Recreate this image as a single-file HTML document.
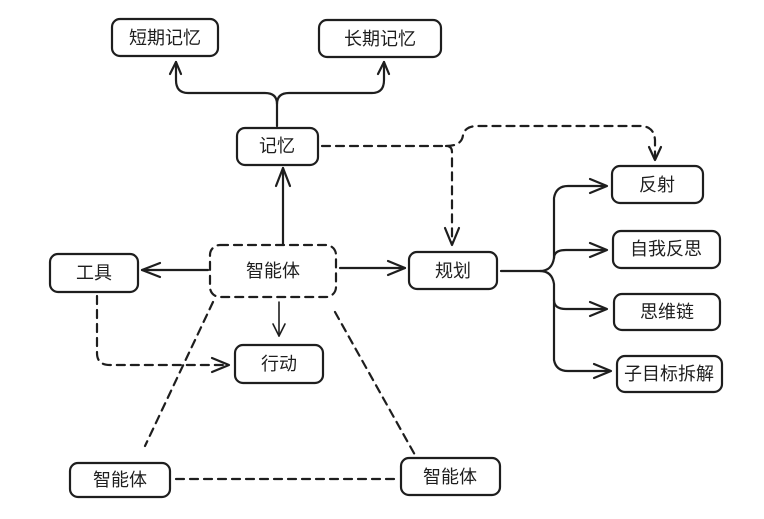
<!DOCTYPE html>
<html><head><meta charset="utf-8"><style>
html,body{margin:0;padding:0;background:#fff;}
svg{display:block;}
text{font-family:"Liberation Sans","Noto Sans CJK SC",sans-serif;font-size:18px;fill:#1e1e1e;text-anchor:middle;dominant-baseline:central;}
</style></head><body>
<svg width="764" height="519" viewBox="0 0 764 519" xmlns="http://www.w3.org/2000/svg">
<g fill="none" stroke="#1e1e1e" stroke-width="2.2" stroke-linecap="round" stroke-linejoin="round">
<rect x="112" y="19" width="106" height="37" rx="8"/>
<rect x="319" y="20" width="122" height="37" rx="8"/>
<rect x="237" y="128" width="81" height="37" rx="8"/>
<rect x="612" y="166" width="91" height="37" rx="8"/>
<rect x="613" y="231" width="107" height="37" rx="8"/>
<rect x="614" y="294" width="106" height="36" rx="8"/>
<rect x="617" y="356" width="105" height="36" rx="8"/>
<rect x="409" y="252" width="88" height="37" rx="8"/>
<rect x="210" y="245" width="126" height="52" rx="10" stroke-dasharray="8 6"/>
<rect x="50" y="254" width="88" height="38" rx="8"/>
<rect x="235" y="345" width="88" height="38" rx="8"/>
<rect x="70" y="463" width="100" height="34" rx="8"/>
<rect x="401" y="458" width="99" height="37" rx="8"/>

<path d="M277 126 V104 Q277 93 265 93 H188 Q176 93 176 80 V62"/>
<path d="M170 74 L176 62 L181 74"/>
<path d="M277 104 Q277 93 289 93 H372 Q384 93 384 80 V62"/>
<path d="M378 74 L384 62 L389 74"/>
<path d="M283 244 V168"/><path d="M276 186 L283 168 L290 186"/>
<path d="M208 270 H142"/><path d="M160 263 L142 270 L160 277"/>
<path d="M340 268 H405"/><path d="M388 261 L405 268 L388 275"/>
<path d="M279 302 V336" stroke-width="1.6"/><path d="M273 324 L279 336 L285 324" stroke-width="1.6"/>
<path d="M97 296 V353 Q97 365 110 365 H228" stroke-dasharray="8 6"/>
<path d="M212 358 L229 365 L212 372"/>
<path d="M322 146 H446 Q452 146 452 152 V244" stroke-dasharray="8 6"/>
<path d="M445 228 L452 245 L459 228"/>
<path d="M446 146 Q462 146 463 135 Q465 126 478 126 H640 Q654 126 655 140 V160" stroke-dasharray="8 6"/>
<path d="M649 147 L655 160 L661 147"/>
<path d="M501 271 H540 Q552 271 554 258 V198 Q556 186 568 186 H606"/>
<path d="M554 258 Q554 250 566 250 H606"/>
<path d="M540 271 Q552 271 554 284 V300 Q554 309 566 309 H606"/>
<path d="M554 300 V360 Q556 371 568 371 H610"/>
<path d="M590 179 L607 186 L590 193"/>
<path d="M590 243 L607 250 L590 257"/>
<path d="M590 302 L607 309 L590 316"/>
<path d="M594 364 L611 371 L594 378"/>
<path d="M213 302 L145 446" stroke-dasharray="8 6"/>
<path d="M335 312 L415 455" stroke-dasharray="8 6"/>
<path d="M176 479 H398" stroke-dasharray="8 6"/>
</g>
<text x="165" y="38">短期记忆</text>
<text x="380" y="39">长期记忆</text>
<text x="277" y="146">记忆</text>
<text x="657" y="185">反射</text>
<text x="666" y="249">自我反思</text>
<text x="667" y="312">思维链</text>
<text x="669" y="374">子目标拆解</text>
<text x="453" y="271">规划</text>
<text x="273" y="271">智能体</text>
<text x="94" y="273">工具</text>
<text x="279" y="364">行动</text>
<text x="120" y="480">智能体</text>
<text x="450" y="477">智能体</text>
</svg>
</body></html>
